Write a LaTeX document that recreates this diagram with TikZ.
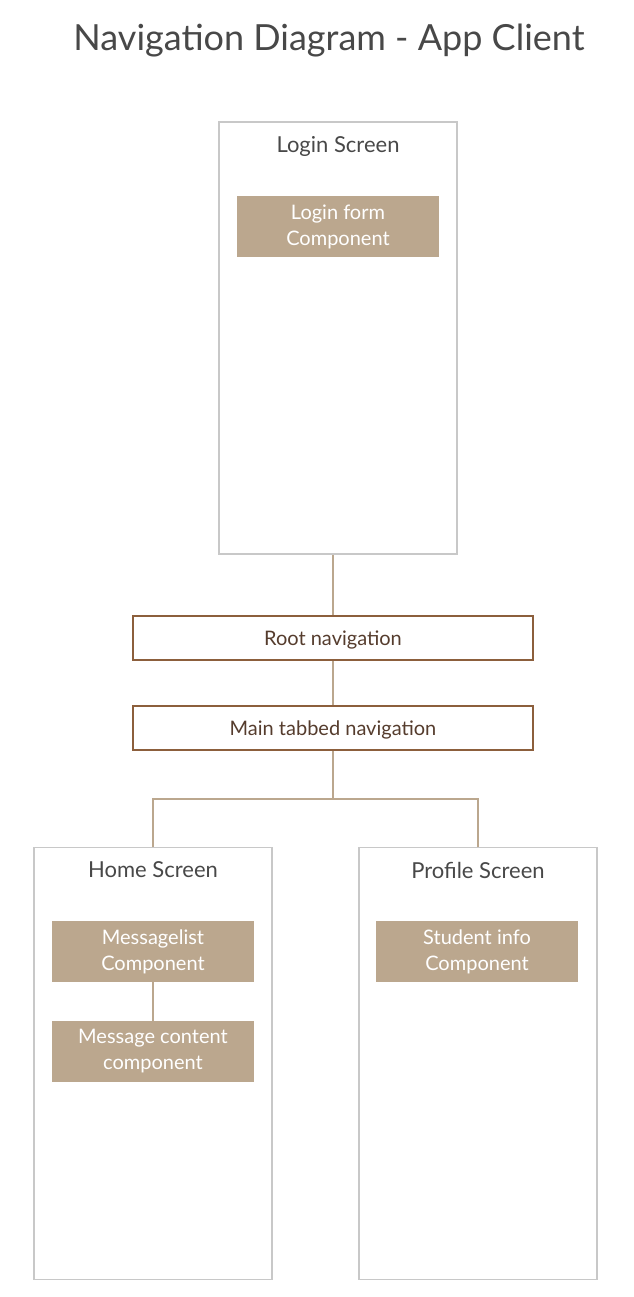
\documentclass[tikz,border=0pt]{standalone}
\usepackage{fontspec}
\setmainfont{Lato}
\usepackage{tikz}
\usetikzlibrary{positioning,calc}
\definecolor{screenGray}{RGB}{200, 200, 200}
\definecolor{compTan}{RGB}{187, 167, 142}
\definecolor{navBrown}{RGB}{140, 95, 60}
\definecolor{navText}{RGB}{85, 60, 45}
\definecolor{titleGray}{RGB}{72, 72, 72}

\begin{document}
\begin{tikzpicture}[x=1pt,y=-1pt,
    screen/.style={draw=screenGray,line width=1.5pt,minimum width=238pt,minimum height=432pt,inner sep=0pt},
    screentitle/.style={text=titleGray,font=\fontsize{22}{26}\selectfont,inner sep=0pt,anchor=center},
    component/.style={fill=compTan,text=white,minimum width=202pt,minimum height=61pt,inner sep=0pt,
                      align=center,font=\fontsize{20}{26}\selectfont},
    navbox/.style={draw=navBrown,line width=1.5pt,minimum width=400pt,minimum height=44pt,inner sep=0pt,
                   text=navText,font=\fontsize{20}{24}\selectfont,text height=16pt,text depth=2pt},
    link/.style={draw=compTan,line width=1.5pt}
  ]
  \useasboundingbox (0,0) rectangle (633,1297);

  % title
  \node[text=titleGray,font=\fontsize{36}{42}\selectfont,inner sep=0pt] (title) at (329,41) {Navigation Diagram - App Client};

  % login screen
  \node[screen] (login) at (338,338) {};
  \node[screentitle] (loginT) at (338,146) {Login Screen};
  \node[component] (loginform) at (338,226.5) {Login form\\Component};

  % navigation
  \node[navbox] (root) at (333,638) {Root navigation};
  \node[navbox] (tabs) at (333,728) {Main tabbed navigation};

  % home screen
  \node[screen] (home) at (153,1063.5) {};
  \node[screentitle] (homeT) at (153,870) {Home Screen};
  \node[component] (msglist) at (153,951.5) {Messagelist\\Component};
  \node[component] (msgcontent) at (153,1051.5) {Message content\\component};

  % profile screen
  \node[screen] (profile) at (478,1063.5) {};
  \node[screentitle] (profileT) at (478,870) {Profile Screen};
  \node[component] (student) at (477,951.5) {Student info\\Component};

  % connectors
  \coordinate (split) at (333,799);
  \draw[link] (login.south -| root.north) -- (root.north);
  \draw[link] (root.south) -- (tabs.north);
  \draw[link] (tabs.south) -- (split);
  \draw[link] (home.north) |- (split) -| (profile.north);
  \draw[link] (msglist.south) -- (msgcontent.north);
\end{tikzpicture}
\end{document}
